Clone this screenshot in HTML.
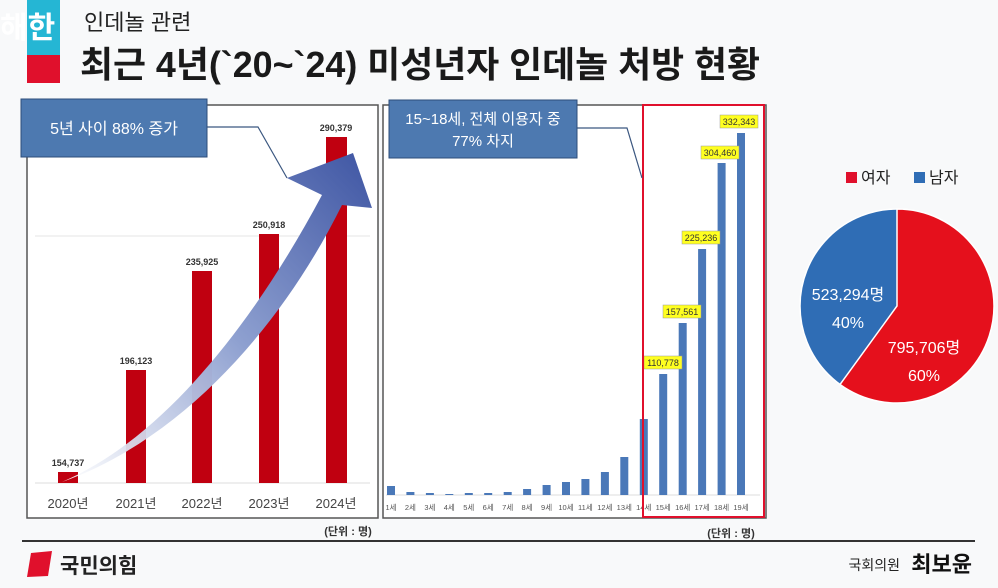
<!DOCTYPE html>
<html><head><meta charset="utf-8"><style>
body{margin:0;width:998px;height:588px;background:#f8f9fa;overflow:hidden;font-family:"Liberation Sans","Noto Sans CJK KR",sans-serif;}
svg{display:block}
</style></head><body>
<svg width="998" height="588" viewBox="0 0 998 588" font-family="Liberation Sans, Noto Sans CJK KR, sans-serif">
<defs>
<linearGradient id="ag" x1="0" y1="1" x2="1" y2="0">
<stop offset="0" stop-color="#ffffff" stop-opacity="0.9"/>
<stop offset="0.5" stop-color="#8ea0d0"/>
<stop offset="1" stop-color="#3e55a3"/>
</linearGradient>
</defs>
<rect x="27" y="0" width="33" height="55" fill="#25b6d4"/>
<rect x="27" y="55" width="33" height="28" fill="#e0102c"/>
<text x="0" y="38" font-size="30" font-weight="bold" fill="#fff">해한</text>
<text x="84" y="30" font-size="22" fill="#222">인데놀 관련</text>
<text x="80" y="77" font-size="36" font-weight="bold" fill="#1a1a1a" textLength="680" lengthAdjust="spacingAndGlyphs">최근 4년(`20~`24) 미성년자 인데놀 처방 현황</text>

<!-- left panel -->
<rect x="27" y="105" width="351" height="413" fill="#fff" stroke="#555" stroke-width="1.5"/>
<line x1="35" y1="236" x2="370" y2="236" stroke="#e4e4e4"/>
<line x1="35" y1="483" x2="370" y2="483" stroke="#ddd"/>
<g fill="#c00010">
<rect x="58" y="472" width="20" height="11"/>
<rect x="126" y="370" width="20" height="113"/>
<rect x="192" y="271" width="20" height="212"/>
<rect x="259" y="234" width="20" height="249"/>
<rect x="326" y="137" width="21" height="346"/>
</g>
<g font-size="9" font-weight="bold" fill="#333" text-anchor="middle">
<text x="68" y="466">154,737</text>
<text x="136" y="364">196,123</text>
<text x="202" y="265">235,925</text>
<text x="269" y="228">250,918</text>
<text x="336" y="131">290,379</text>
</g>
<g font-size="13" fill="#444" text-anchor="middle">
<text x="68" y="508">2020년</text>
<text x="136" y="508">2021년</text>
<text x="202" y="508">2022년</text>
<text x="269" y="508">2023년</text>
<text x="336" y="508">2024년</text>
</g>
<path d="M62,482 C160,440 250,330 322,195 L287,178 L353,153 L372,208 L342,205 C280,330 180,440 62,482 Z" fill="url(#ag)"/>
<polyline points="207,127 258,127 287,178" fill="none" stroke="#3b5780" stroke-width="1.2"/>
<rect x="21" y="99" width="186" height="58" fill="#4d79b0" stroke="#2d4d7a"/>
<text x="114" y="134" font-size="16" fill="#fff" text-anchor="middle">5년 사이 88% 증가</text>
<text x="348" y="535" font-size="11" font-weight="bold" fill="#333" text-anchor="middle">(단위 : 명)</text>

<!-- right panel -->
<rect x="383" y="105" width="383" height="413" fill="#fff" stroke="#555" stroke-width="1.5"/>
<line x1="386" y1="495" x2="760" y2="495" stroke="#ddd"/>
<g fill="#4a78b8">
<rect x="387" y="486" width="8" height="9"/>
<rect x="406.4" y="492" width="8" height="3"/>
<rect x="425.9" y="493" width="8" height="2"/>
<rect x="445.3" y="494" width="8" height="1"/>
<rect x="464.8" y="493" width="8" height="2"/>
<rect x="484.2" y="493" width="8" height="2"/>
<rect x="503.7" y="492" width="8" height="3"/>
<rect x="523.1" y="489" width="8" height="6"/>
<rect x="542.6" y="485" width="8" height="10"/>
<rect x="562" y="482" width="8" height="13"/>
<rect x="581.4" y="479" width="8" height="16"/>
<rect x="600.9" y="472" width="8" height="23"/>
<rect x="620.3" y="457" width="8" height="38"/>
<rect x="639.8" y="419" width="8" height="76"/>
<rect x="659.2" y="374" width="8" height="121"/>
<rect x="678.7" y="323" width="8" height="172"/>
<rect x="698.1" y="249" width="8" height="246"/>
<rect x="717.6" y="163" width="8" height="332"/>
<rect x="737" y="133" width="8" height="362"/>
</g>
<g font-size="7.5" fill="#555" text-anchor="middle">
<text x="391" y="510">1세</text><text x="410.4" y="510">2세</text><text x="429.9" y="510">3세</text><text x="449.3" y="510">4세</text><text x="468.8" y="510">5세</text><text x="488.2" y="510">6세</text><text x="507.7" y="510">7세</text><text x="527.1" y="510">8세</text><text x="546.6" y="510">9세</text><text x="566" y="510">10세</text><text x="585.4" y="510">11세</text><text x="604.9" y="510">12세</text><text x="624.3" y="510">13세</text><text x="643.8" y="510">14세</text><text x="663.2" y="510">15세</text><text x="682.7" y="510">16세</text><text x="702.1" y="510">17세</text><text x="721.6" y="510">18세</text><text x="741" y="510">19세</text>
</g>
<g font-size="9" fill="#333" text-anchor="middle">
<rect x="644" y="356" width="38" height="13" fill="#ffff20" stroke="#999" stroke-width="0.5"/><text x="663" y="366">110,778</text>
<rect x="663" y="305" width="38" height="13" fill="#ffff20" stroke="#999" stroke-width="0.5"/><text x="682" y="315">157,561</text>
<rect x="682" y="231" width="38" height="13" fill="#ffff20" stroke="#999" stroke-width="0.5"/><text x="701" y="241">225,236</text>
<rect x="701" y="146" width="38" height="13" fill="#ffff20" stroke="#999" stroke-width="0.5"/><text x="720" y="156">304,460</text>
<rect x="720" y="115" width="38" height="13" fill="#ffff20" stroke="#999" stroke-width="0.5"/><text x="739" y="125">332,343</text>
</g>
<rect x="643" y="105" width="121" height="412" fill="none" stroke="#e0102c" stroke-width="2"/>
<polyline points="577,128 627,128 642,178" fill="none" stroke="#3b5780" stroke-width="1.2"/>
<rect x="389" y="100" width="188" height="58" fill="#4d79b0" stroke="#2d4d7a"/>
<text x="483" y="124" font-size="15" fill="#fff" text-anchor="middle">15~18세, 전체 이용자 중</text>
<text x="483" y="146" font-size="15" fill="#fff" text-anchor="middle">77% 차지</text>
<text x="731" y="537" font-size="11" font-weight="bold" fill="#333" text-anchor="middle">(단위 : 명)</text>

<!-- pie -->
<rect x="846" y="172" width="11" height="11" fill="#e0102c"/>
<text x="861" y="183" font-size="16" fill="#222">여자</text>
<rect x="914" y="172" width="11" height="11" fill="#2f6db5"/>
<text x="929" y="183" font-size="16" fill="#222">남자</text>
<circle cx="897" cy="306" r="97" fill="#2f6db5" stroke="#fff" stroke-width="1.5"/>
<path d="M897,306 L897,209 A97,97 0 1 1 840,384.5 Z" fill="#e5101c" stroke="#fff" stroke-width="1.5"/>
<text x="848" y="300" font-size="16" fill="#fff" text-anchor="middle">523,294명</text>
<text x="848" y="328" font-size="16" fill="#fff" text-anchor="middle">40%</text>
<text x="924" y="353" font-size="16" fill="#fff" text-anchor="middle">795,706명</text>
<text x="924" y="381" font-size="16" fill="#fff" text-anchor="middle">60%</text>

<!-- footer -->
<line x1="22" y1="541" x2="975" y2="541" stroke="#333" stroke-width="2"/>
<path d="M31,553 L52,551 L48,576 L27,577 Z" fill="#e0102c"/>
<text x="60" y="573" font-size="21" font-weight="bold" fill="#222">국민의힘</text>
<text x="900" y="570" font-size="14" fill="#222" text-anchor="end">국회의원</text>
<text x="972" y="572" font-size="22" font-weight="bold" fill="#111" text-anchor="end">최보윤</text>
</svg>
</body></html>
